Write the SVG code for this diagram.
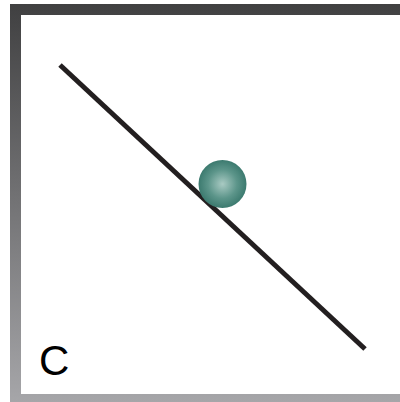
<svg xmlns="http://www.w3.org/2000/svg" width="400" height="402" viewBox="0 0 400 402">
  <defs>
    <linearGradient id="frameGrad" gradientUnits="userSpaceOnUse" x1="0" y1="4" x2="0" y2="402">
      <stop offset="0" stop-color="#404041"/>
      <stop offset="1" stop-color="#a6a6a9"/>
    </linearGradient>
    <radialGradient id="ballGrad" cx="0.5" cy="0.5" r="0.5">
      <stop offset="0" stop-color="#a9cac3"/>
      <stop offset="0.6" stop-color="#5c958a"/>
      <stop offset="1" stop-color="#3c7a6f"/>
    </radialGradient>
    <style>
      .label { font-family: "Liberation Sans", Arial, sans-serif; font-size: 42px; fill: #000; }
      .ramp { stroke: #231f20; stroke-width: 5; fill: none; }
    </style>
  </defs>
  <rect width="400" height="402" fill="#fff"/>
  <g id="frame">
    <path d="M10 4 H400 V15 H21 V394 H400 V402 H10 Z" fill="url(#frameGrad)"/>
  </g>
  <g id="connectors">
    <line class="ramp" x1="60" y1="65" x2="365" y2="349"/>
  </g>
  <g id="ball">
    <circle cx="222.5" cy="184" r="24" fill="url(#ballGrad)"/>
  </g>
  <g id="label">
    <text class="label" x="39" y="375">C</text>
  </g>
</svg>
